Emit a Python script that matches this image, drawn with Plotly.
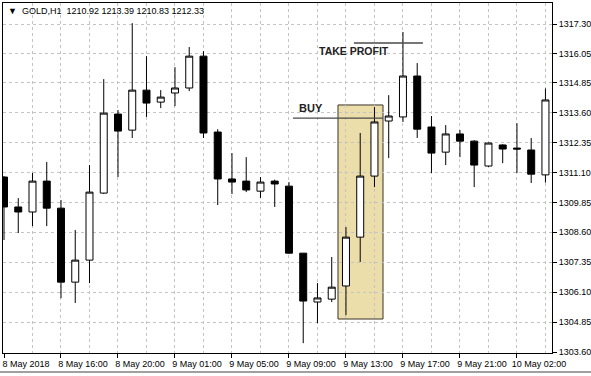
import plotly.graph_objects as go

# ---- data (hourly GOLD candles, 8 May 12:00 -> 10 May 04:00) ----
bar_index = list(range(39))
opens = [1310.91, 1309.66, 1309.45, 1310.74, 1309.61, 1306.52, 1307.44, 1310.24, 1313.54, 1312.87,
         1314.54, 1314.04, 1314.42, 1314.63, 1315.96, 1312.79, 1310.83, 1310.74, 1310.32, 1310.74,
         1310.53, 1307.73, 1305.69, 1305.81, 1306.36, 1308.40, 1310.95, 1313.25, 1313.42, 1315.13,
         1313.00, 1311.95, 1312.71, 1312.41, 1311.37, 1312.25, 1312.12, 1312.04, 1311.00]
highs = [1310.95, 1310.03, 1311.08, 1311.54, 1309.95, 1308.70, 1311.41, 1315.00, 1313.71, 1317.34,
         1315.96, 1314.54, 1315.50, 1316.34, 1316.17, 1312.91, 1311.91, 1311.74, 1310.91, 1310.80,
         1310.70, 1307.73, 1306.48, 1307.57, 1308.82, 1312.75, 1313.83, 1314.33, 1316.97, 1315.67,
         1313.46, 1313.08, 1312.87, 1312.45, 1312.35, 1312.28, 1313.16, 1312.54, 1314.61]
lows = [1308.28, 1308.57, 1308.86, 1308.86, 1305.85, 1305.65, 1306.48, 1310.20, 1310.91, 1312.54,
        1313.42, 1313.79, 1313.87, 1314.50, 1312.54, 1309.74, 1310.20, 1310.28, 1310.03, 1309.66,
        1307.70, 1303.97, 1304.81, 1305.69, 1305.14, 1307.36, 1310.49, 1311.70, 1313.21, 1312.54,
        1311.08, 1311.41, 1311.74, 1310.49, 1311.33, 1311.49, 1311.08, 1310.66, 1310.68]
closes = [1309.66, 1309.45, 1310.74, 1309.61, 1306.52, 1307.44, 1310.28, 1313.58, 1312.83, 1314.54,
          1314.00, 1314.25, 1314.63, 1315.96, 1312.75, 1310.83, 1310.70, 1310.37, 1310.70, 1310.62,
          1307.73, 1305.73, 1305.86, 1306.31, 1308.40, 1310.95, 1313.21, 1313.46, 1315.13, 1312.91,
          1311.91, 1312.71, 1312.41, 1311.41, 1312.33, 1312.08, 1312.08, 1311.03, 1314.13]

x_tick_pos = [0, 4, 8, 12, 16, 20, 24, 28, 32, 36]
x_tick_labels = ["8 May 2018", "8 May 16:00", "8 May 20:00", "9 May 01:00", "9 May 05:00",
                 "9 May 09:00", "9 May 13:00", "9 May 17:00", "9 May 21:00", "10 May 02:00"]
y_tick_vals = [1317.30, 1316.05, 1314.85, 1313.60, 1312.35, 1311.10,
               1309.85, 1308.60, 1307.35, 1306.10, 1304.85, 1303.60]

header_text = "▼  GOLD,H1  1210.92 1213.39 1210.83 1212.33"
buy_level = 1313.37
take_profit_level = 1316.51
entry_zone_low = 1304.98
entry_zone_high = 1313.92
entry_zone_bars = (23.44, 26.6)

FONT = "Liberation Sans, Arial, sans-serif"

fig = go.Figure()
fig.add_trace(go.Candlestick(
    x=bar_index, open=opens, high=highs, low=lows, close=closes,
    increasing=dict(line=dict(color="black", width=1), fillcolor="white"),
    decreasing=dict(line=dict(color="black", width=1), fillcolor="black"),
    whiskerwidth=0, showlegend=False, hoverinfo="skip",
))

grid = dict(showgrid=True, gridcolor="#c4c4c4", griddash="3px,3px", gridwidth=1)

fig.update_layout(
    width=591, height=376,
    margin=dict(l=3, r=39, t=3, b=23),
    paper_bgcolor="white", plot_bgcolor="white",
    font=dict(family=FONT, size=9, color="black"),
    showlegend=False,
    xaxis=dict(
        range=[-0.07, 38.46], rangeslider=dict(visible=False),
        tickmode="array", tickvals=x_tick_pos, ticktext=x_tick_labels,
        ticks="outside", ticklen=4, tickcolor="black", tickangle=0,
        showgrid=False, zeroline=False, automargin=False,
        showline=True, linecolor="black", linewidth=1, mirror=True,
        ticklabelshift=22, ticklabelstandoff=-2,
        minor=dict(tickmode="linear", tick0=0, dtick=2, ticks="", **grid),
        tickfont=dict(family=FONT, size=9, color="black"),
    ),
    yaxis=dict(
        range=[1303.56, 1318.18], side="right",
        tickmode="array", tickvals=y_tick_vals, tickformat=".2f",
        ticks="outside", ticklen=4, tickcolor="black",
        zeroline=False, automargin=False,
        showline=True, linecolor="black", linewidth=1, mirror=True,
        tickfont=dict(family=FONT, size=9, color="black"),
        **grid,
    ),
)

# entry zone box
fig.add_shape(type="rect", xref="x", yref="y",
              x0=entry_zone_bars[0], x1=entry_zone_bars[1],
              y0=entry_zone_low, y1=entry_zone_high,
              fillcolor="rgb(236,222,170)", line=dict(color="#3a3426", width=1), layer="below")
# BUY line
fig.add_shape(type="line", xref="x", yref="y", x0=20.28, x1=26.6, y0=buy_level, y1=buy_level,
              line=dict(color="#4a4a4a", width=1.3))
# take profit line
fig.add_shape(type="line", xref="x", yref="y", x0=24.56, x1=29.4,
              y0=take_profit_level, y1=take_profit_level,
              line=dict(color="#4a4a4a", width=1.3))
# window bottom frame
fig.add_shape(type="line", xref="paper", yref="paper", x0=-0.01, x1=1.08, y0=-0.054, y1=-0.054,
              line=dict(color="#a0a0a0", width=2))

fig.add_annotation(xref="x", yref="y", x=20.56, y=1313.79, text="<b>BUY</b>", showarrow=False,
                   xanchor="left", yanchor="middle", font=dict(family=FONT, size=11, color="#222"))
fig.add_annotation(xref="x", yref="y", x=21.96, y=1316.17, text="<b>TAKE PROFIT</b>", showarrow=False,
                   xanchor="left", yanchor="middle", font=dict(family=FONT, size=10.5, color="#222"))
fig.add_annotation(xref="paper", yref="paper", x=0.005, y=0.977, text=header_text, showarrow=False,
                   xanchor="left", yanchor="middle", font=dict(family=FONT, size=9, color="black"))

fig.write_html("out.html", config={"displayModeBar": False},
               post_script="document.body.style.margin='0';")
